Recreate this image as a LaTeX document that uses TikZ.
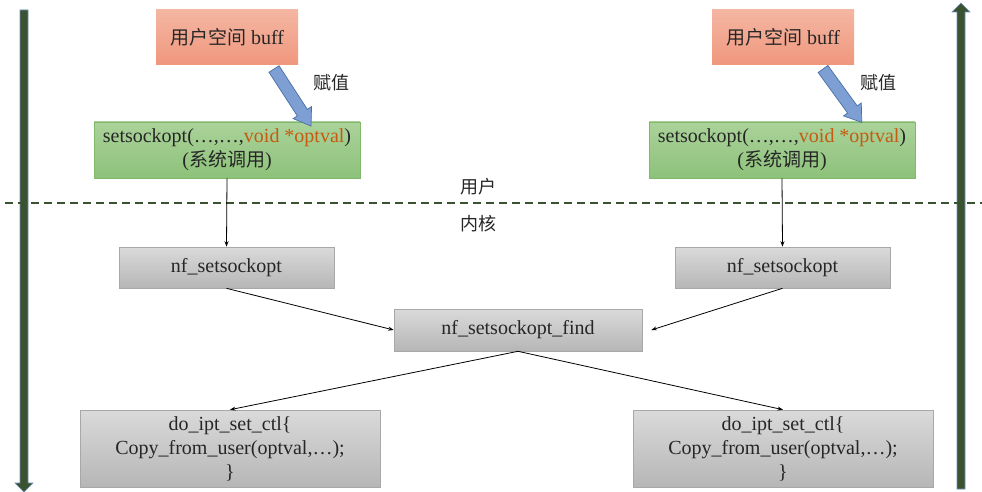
\documentclass[tikz,border=0pt]{standalone}
\usepackage{fontspec}
\setmainfont{Liberation Serif}
\newfontfamily\cjk{Noto Sans CJK SC}
\usetikzlibrary{arrows.meta}
\definecolor{txt}{HTML}{262626}
\definecolor{darkgr}{HTML}{3B5230}
\definecolor{bluebd}{HTML}{6F8FBF}
\definecolor{pinkT}{HTML}{F4B6A2}
\definecolor{pinkB}{HTML}{F0977D}
\definecolor{greenT}{HTML}{ABD29A}
\definecolor{greenB}{HTML}{8DC27A}
\definecolor{greenBd}{HTML}{82B86C}
\definecolor{grayT}{HTML}{DADADA}
\definecolor{grayB}{HTML}{B6B6B6}
\definecolor{grayBd}{HTML}{A8A8A8}
\definecolor{orng}{HTML}{C55A11}
\definecolor{arrfill}{HTML}{7D9FD3}
\definecolor{arrbd}{HTML}{4A6FA5}
\begin{document}
\begin{tikzpicture}[x=1pt,y=-1pt,
  every node/.style={font=\fontsize{20}{24}\selectfont, text=txt, align=center, inner sep=0pt},
  pinkbox/.style={rectangle, top color=pinkT, bottom color=pinkB, draw=none, minimum width=142pt, minimum height=55pt},
  greenbox/.style={rectangle, top color=greenT, bottom color=greenB, draw=greenBd, line width=0.6pt, minimum width=266pt, minimum height=56pt},
  graybox/.style={rectangle, top color=grayT, bottom color=grayB, draw=grayBd, line width=0.6pt, minimum height=41pt},
  conn/.style={draw=black, line width=0.8pt, -{Stealth[length=5.5pt,width=4pt]}},
  blockarr/.style={fill=arrfill, draw=arrbd, line width=0.7pt},
  bigarr/.style={fill=darkgr, draw=bluebd, line width=0.6pt},
  lbl/.style={font=\cjk\fontsize{18}{22}\selectfont}
]
\useasboundingbox (0,0) rectangle (982,492);
% big vertical arrows
\fill[bigarr] (20,10) -- (28,10) -- (28,483) -- (33,483) -- (24,492) -- (15,483) -- (20,483) -- cycle;
\fill[bigarr] (957,489) -- (965,489) -- (965,12) -- (970,12) -- (961,3) -- (952,12) -- (957,12) -- cycle;
% dashed boundary
\draw[darkgr, line width=1.4pt, dash pattern=on 8pt off 5pt] (5,203) -- (982,203);
\node[lbl] (user) at (478,187) {用户};
\node[lbl] (kern) at (478,224) {内核};
% left column
\node[pinkbox] (p1) at (227,37.5) {{\cjk\fontsize{19}{23}\selectfont 用户空间} buff};
\node[greenbox] (g1) at (227,150) {setsockopt(…,…,\textcolor{orng}{void *optval})\\({\cjk\fontsize{19}{23}\selectfont 系统调用})};
\node[graybox, minimum width=215pt] (n1) at (226.5,267.5) {nf\_setsockopt};
\node[graybox, minimum width=300pt, minimum height=77pt] (d1) at (230,448.5) {do\_ipt\_set\_ctl\{\\Copy\_from\_user(optval,…);\\\}};
% right column
\node[pinkbox] (p2) at (783,37.5) {{\cjk\fontsize{19}{23}\selectfont 用户空间} buff};
\node[greenbox] (g2) at (782,150) {setsockopt(…,…,\textcolor{orng}{void *optval})\\({\cjk\fontsize{19}{23}\selectfont 系统调用})};
\node[graybox, minimum width=215pt] (n2) at (782.5,267.5) {nf\_setsockopt};
\node[graybox, minimum width=300pt, minimum height=77pt] (d2) at (783,448.5) {do\_ipt\_set\_ctl\{\\Copy\_from\_user(optval,…);\\\}};
% center
\node[graybox, minimum width=248pt, minimum height=42pt] (f) at (518,330) {nf\_setsockopt\_find};
% block arrows
\begin{scope}[shift={(274,69)}, rotate=-57]
  \filldraw[blockarr] (0,-6) -- (52,-6) -- (52,-11) -- (68,0) -- (52,11) -- (52,6) -- (0,6) -- cycle;
\end{scope}
\begin{scope}[shift={(823,69)}, rotate=-54]
  \filldraw[blockarr] (0,-6) -- (50,-6) -- (50,-11) -- (66,0) -- (50,11) -- (50,6) -- (0,6) -- cycle;
\end{scope}
\node[lbl] (a1) at (331,83) {赋值};
\node[lbl] (a2) at (878,83) {赋值};
% connectors
\draw[conn] (g1.south) -- (n1.north);
\draw[conn] (g2.south) -- (n2.north);
\draw[conn] (n1.south) -- (f.west);
\draw[conn] (n2.south) -- ([xshift=9pt]f.east);
\draw[conn] (f.south) -- (d1.north);
\draw[conn] (f.south) -- (d2.north);
\end{tikzpicture}
\end{document}
